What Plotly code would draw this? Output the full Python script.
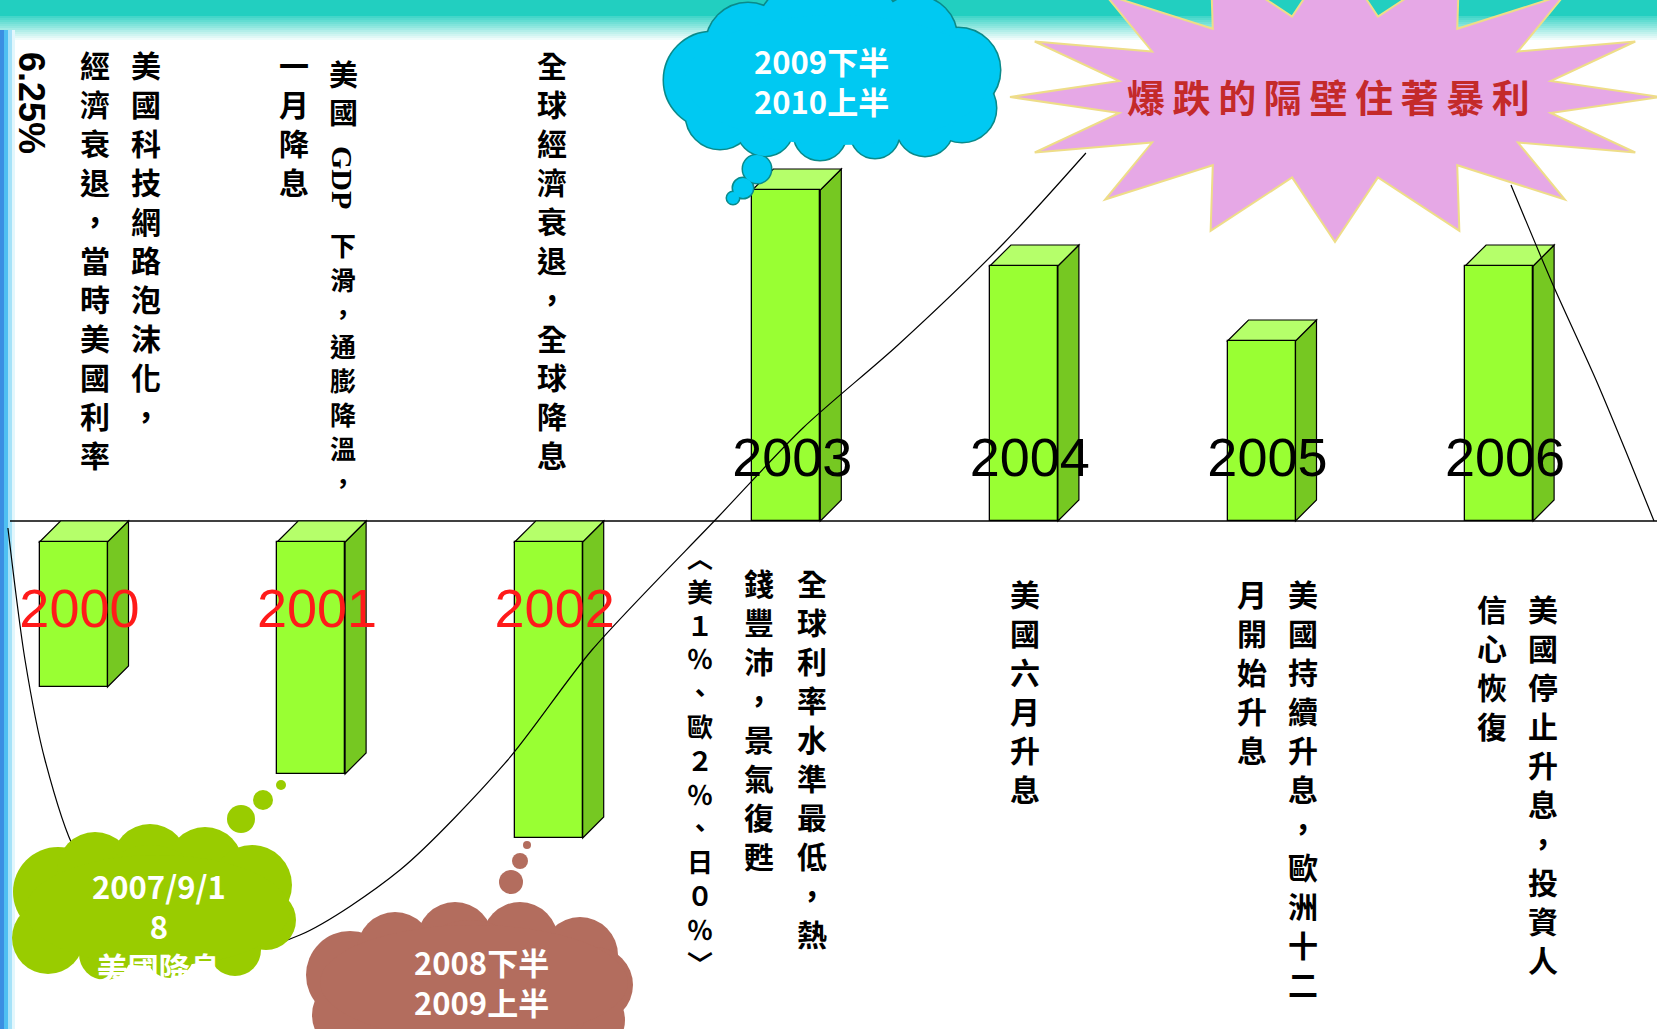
import numpy as np
import plotly.graph_objects as go

# data (abstract heights, baseline = 0)
years = [2000, 2001, 2002, 2003, 2004, 2005, 2006]
year_labels = ["2000", "2001", "2002", "2003", "2004", "2005", "2006"]
rate_moves = [-1.66, -2.53, -3.17, 3.31, 2.55, 1.80, 2.55]

# the hand-drawn cycle curve (year, height)
curve_left_x = [1999.724, 1999.796, 1999.880, 2000.006, 2000.238, 2000.579, 2000.953,
                2001.374, 2001.824, 2002.182, 2002.717, 2003.070, 2003.470, 2003.916, 2004.261]
curve_left_y = [-0.07, -1.39, -2.39, -3.29, -3.99, -4.35, -4.14,
                -3.49, -2.40, -1.29, 0.05, 0.93, 1.76, 2.78, 3.68]
curve_right_x = [2006.050, 2006.227, 2006.408, 2006.538, 2006.652]
curve_right_y = [3.36, 2.36, 1.41, 0.67, 0.0]

rate_top = "6.25%"
notes_upper = ["美國科技網路泡沫化，", "經濟衰退，當時美國利率", "一月降息", "全球經濟衰退，全球降息"]
note_gdp = ["美國", "GDP", "下滑，通膨降溫，"]
notes_lower = ["全球利率水準最低，熱", "錢豐沛，景氣復甦", "美國六月升息",
               "美國持續升息，歐洲十二", "月開始升息", "美國停止升息，投資人", "信心恢復"]
note_rates = ["︿", "美", "１", "％", "、", "歐", "２", "％", "、", "日", "０", "％", "﹀"]
cloud_texts = ["2009下半<br>2010上半", "2007/9/1<br>8<br>美國降息", "2008下半<br>2009上半"]
burst_text = "爆跌的隔壁住著暴利"

W, H = 1657, 1029
X0, XSTEP = 73.5, 237.6   # pixel of year 2000, pixels per year
Y0, YSTEP = 521, 100.0    # baseline pixel, pixels per unit
CJK = "Noto Sans CJK TC"


def px(x):
    return x / W


def py(y):
    return 1 - y / H


def vert(s):
    return "<br>".join(s)


fig = go.Figure()

bar_w = 68 / XSTEP
dx = 21 / XSTEP
dy = 21 / YSTEP

bases = [-dy if v < 0 else 0 for v in rate_moves]
heights = [v + dy if v < 0 else v for v in rate_moves]
fig.add_trace(go.Bar(x=years, y=heights, base=bases, width=bar_w,
                     marker=dict(color="#99ff33", line=dict(color="black", width=1.3)),
                     hoverinfo="skip"))

fig.add_trace(go.Scatter(x=curve_left_x, y=curve_left_y, mode="lines",
                         line=dict(color="black", width=1.2, shape="spline", smoothing=0.8),
                         hoverinfo="skip"))
fig.add_trace(go.Scatter(x=curve_right_x, y=curve_right_y, mode="lines",
                         line=dict(color="black", width=1.2, shape="spline", smoothing=0.8),
                         hoverinfo="skip"))

label_y = [-0.92 if v < 0 else 0.59 for v in rate_moves]
label_col = ["#ff1a1a" if v < 0 else "black" for v in rate_moves]
fig.add_trace(go.Scatter(x=[y + 0.025 for y in years], y=label_y, mode="text",
                         text=year_labels, textposition="middle center",
                         textfont=dict(family="Liberation Sans", size=54, color=label_col),
                         hoverinfo="skip"))

shapes = []

# background bands
shapes.append(dict(type="rect", xref="paper", yref="paper", x0=0, x1=1, y0=py(16), y1=1,
                   fillcolor="#22cfc0", line=dict(width=0), layer="below"))
for i in range(12):
    a = 0.85 * (1 - i / 12)
    shapes.append(dict(type="rect", xref="paper", yref="paper", x0=0, x1=1,
                       y0=py(16 + 2 * (i + 1)), y1=py(16 + 2 * i),
                       fillcolor=f"rgba(34,207,192,{a:.2f})", line=dict(width=0), layer="below"))
for x0, x1, c in [(0, 4, "#3a8fe2"), (4, 8, "#4ec0f2"), (8, 12, "#a6e2f8"), (12, 15, "#e2f6fc")]:
    shapes.append(dict(type="rect", xref="paper", yref="paper", x0=px(x0), x1=px(x1), y0=0, y1=py(30),
                       fillcolor=c, line=dict(width=0), layer="below"))

# baseline
shapes.append(dict(type="line", xref="paper", yref="y", x0=px(10), x1=1, y0=0, y1=0,
                   line=dict(color="black", width=1.5), layer="below"))

# 3d side and top faces of the bars
for x, v in zip(years, rate_moves):
    xl, xr = x - bar_w / 2, x + bar_w / 2
    if v < 0:
        side = [(xr, -dy), (xr + dx, 0), (xr + dx, v + dy), (xr, v)]
        top = [(xl, -dy), (xr, -dy), (xr + dx, 0), (xl + dx, 0)]
    else:
        side = [(xr, 0), (xr + dx, dy), (xr + dx, v + dy), (xr, v)]
        top = [(xl, v), (xr, v), (xr + dx, v + dy), (xl + dx, v + dy)]
    for pts, col in [(side, "#76c822"), (top, "#b5ff6a")]:
        path = "M " + " L ".join(f"{a},{b}" for a, b in pts) + " Z"
        shapes.append(dict(type="path", xref="x", yref="y", path=path, fillcolor=col,
                           line=dict(color="black", width=1.2), layer="below"))


def ellipse(x0, x1, y0, y1, fill, line=None):
    return dict(type="circle", xref="paper", yref="paper",
                x0=px(x0), x1=px(x1), y0=py(y1), y1=py(y0),
                fillcolor=fill, line=line or dict(width=0), layer="above")


def cloud(circles, core, fill, edge=None):
    out = []
    if edge:
        for cx, cy, r in circles:
            out.append(ellipse(cx - r, cx + r, cy - r, cy + r, fill, dict(color=edge, width=3)))
    for cx, cy, r in circles:
        out.append(ellipse(cx - r, cx + r, cy - r, cy + r, fill))
    out.append(ellipse(*core, fill))
    return out


cyan_cloud = [(712, 80, 48), (748, 45, 42), (800, 28, 42), (858, 26, 42), (915, 38, 42),
              (958, 70, 42), (962, 108, 34), (925, 128, 28), (875, 134, 24), (820, 134, 26),
              (765, 128, 28), (720, 115, 34), (835, 80, 62),
              (757, 169, 14), (743, 188, 10), (733, 198, 6)]
green_cloud = [(58, 892, 45), (95, 870, 38), (150, 862, 38), (205, 865, 38), (252, 885, 40),
               (266, 920, 30), (235, 950, 26), (170, 954, 24), (105, 954, 26), (48, 938, 36),
               (150, 905, 60),
               (241, 819, 14), (263, 800, 10), (281, 785, 5)]
brown_cloud = [(350, 975, 44), (395, 950, 38), (455, 940, 38), (520, 940, 38), (580, 955, 38),
               (595, 985, 38), (590, 1020, 35), (350, 1015, 38), (470, 985, 65), (540, 1000, 50),
               (511, 882, 12), (520, 861, 8), (527, 845, 4)]

shapes += cloud(cyan_cloud, (685, 990, 15, 145), "#00c9f2", "#0a8a8a")
shapes += cloud(green_cloud, (25, 290, 855, 966), "#99cc00")
shapes += cloud(brown_cloud, (320, 628, 925, 1040), "#b36d5e")

# starburst
n = 16
cx, cy = 1335, 97
ang = np.pi + np.arange(2 * n) * np.pi / n
rx = np.where(np.arange(2 * n) % 2 == 0, 325, 220)
ry = np.where(np.arange(2 * n) % 2 == 0, 145, 82)
bx = cx + rx * np.cos(ang)
by = cy + ry * np.sin(ang)
burst = "M " + " L ".join(f"{px(a):.5f},{py(b):.5f}" for a, b in zip(bx, by)) + " Z"
shapes.append(dict(type="path", xref="paper", yref="paper", path=burst, fillcolor="#e6a8e6",
                   line=dict(color="#eedd88", width=2), layer="above"))

annotations = []


def note(text, x, y, size, color="black", family=CJK, angle=0, anchor="top"):
    annotations.append(dict(text=text, x=px(x), y=py(y), xref="paper", yref="paper",
                            xanchor="center", yanchor=anchor, showarrow=False, textangle=angle,
                            align="center", font=dict(family=family, size=size, color=color)))


# upper notes
for s, x in zip(notes_upper, [146, 95, 294, 552]):
    note("<b>" + vert(s) + "</b>", x, 40, 30)
note("<b>" + vert(note_gdp[0]) + "</b>", 343, 50, 29)
note("<b>" + note_gdp[1] + "</b>", 343, 177, 30, family="Liberation Sans Narrow", angle=90, anchor="middle")
note("<b>" + vert(note_gdp[2]) + "</b>", 343, 224, 26)
note("<b>" + rate_top + "</b>", 32, 103, 36, family="Liberation Sans", angle=90, anchor="middle")

# lower notes
note("<b>" + "<br>".join(note_rates) + "</b>", 700, 536, 26)
for s, x, y in zip(notes_lower, [812, 759, 1025, 1303, 1252, 1543, 1492],
                   [558, 558, 569, 569, 569, 584, 584]):
    note("<b>" + vert(s) + "</b>", x, y, 30)

# cloud captions and starburst text
note("<b>" + cloud_texts[0] + "</b>", 821, 81, 31, color="white", anchor="middle")
note("<b>" + cloud_texts[1] + "</b>", 159, 926, 31, color="white", anchor="middle")
note("<b>" + cloud_texts[2] + "</b>", 481, 981, 31, color="white", anchor="middle")
note("<b>" + "\u2009".join(burst_text) + "</b>", 1328, 95, 38, color="#c42a2a", anchor="middle")

fig.update_layout(
    width=W, height=H,
    margin=dict(l=0, r=0, t=0, b=0),
    paper_bgcolor="white", plot_bgcolor="rgba(0,0,0,0)",
    showlegend=False,
    xaxis=dict(range=[2000 - X0 / XSTEP, 2000 + (W - X0) / XSTEP], visible=False, fixedrange=True),
    yaxis=dict(range=[(Y0 - H) / YSTEP, Y0 / YSTEP], visible=False, fixedrange=True),
    shapes=shapes,
    annotations=annotations,
    bargap=0,
)

fig.write_html("out.html", config={"displayModeBar": False},
               post_script="document.body.style.margin='0';")
